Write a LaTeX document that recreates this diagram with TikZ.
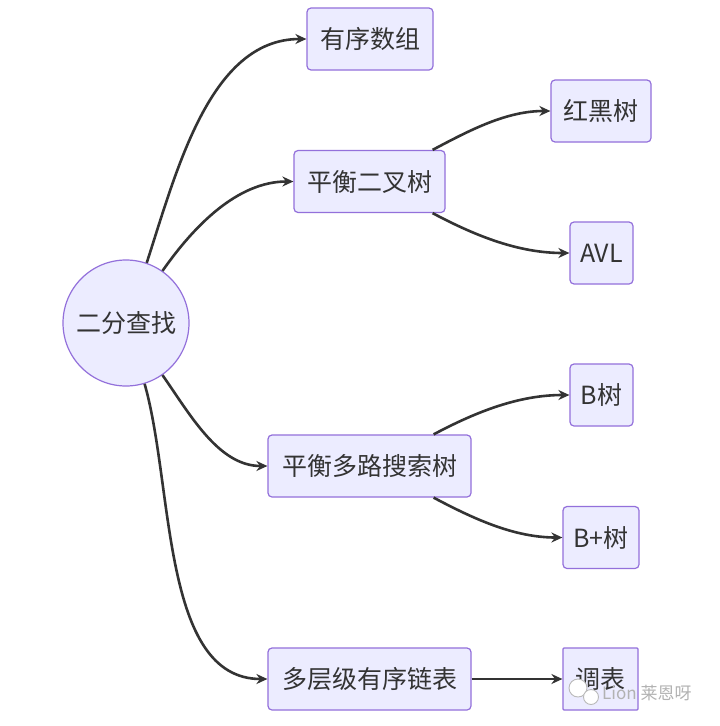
\documentclass[tikz,border=0pt]{standalone}
\usepackage{fontspec}
\setmainfont{Noto Sans CJK SC}
\usetikzlibrary{arrows.meta}
\definecolor{nodefill}{HTML}{ECECFF}
\definecolor{nodeline}{HTML}{9370DB}
\definecolor{ink}{HTML}{333333}
\begin{document}
\begin{tikzpicture}[x=1pt,y=-1pt,
  box/.style={draw=nodeline,fill=nodefill,rounded corners=4pt,line width=1.2pt,
    minimum height=62pt,inner sep=0pt,text=ink,font=\fontsize{25}{30}\selectfont},
  rootnode/.style={circle,draw=nodeline,fill=nodefill,line width=1.2pt,
    minimum size=126pt,inner sep=0pt,text=ink,font=\fontsize{25}{30}\selectfont},
  edge/.style={draw=ink,line width=2.6pt,-{Stealth[length=11pt,width=10pt]}}]
\useasboundingbox (0,0) rectangle (720,726);
\fill[white] (0,0) rectangle (720,726);

\node[rootnode] (root) at (126,323) {二分查找};
\node[box,minimum width=126pt] (arr) at (370,39) {有序数组};
\node[box,minimum width=151pt] (bst) at (369.5,181.5) {平衡二叉树};
\node[box,minimum width=100pt] (rb) at (601,111) {红黑树};
\node[box,minimum width=63pt] (avl) at (601.5,253) {AVL};
\node[box,minimum width=63pt] (bt) at (601.5,395) {B树};
\node[box,minimum width=203pt] (mst) at (369.5,466) {平衡多路搜索树};
\node[box,minimum width=76pt] (bpt) at (601,537.5) {B+树};
\node[box,minimum width=203pt] (ml) at (369.5,679) {多层级有序链表};
\node[box,minimum width=75pt,rounded corners=1pt] (skip) at (600.5,679) {\raisebox{3pt}{调表}};

\draw[edge] (root.71) to[out=72,in=180,looseness=0.9] (arr.west);
\draw[edge] (root.55) to[out=55,in=180,looseness=0.9] (bst.west);
\draw[edge] (root.-55) to[out=-55,in=180,looseness=0.9] (mst.west);
\draw[edge] (root.-73) to[out=-74,in=180,looseness=0.85] (ml.west);

\coordinate (bstA) at ([xshift=-13pt]bst.north east);
\coordinate (bstB) at ([xshift=-13pt]bst.south east);
\coordinate (mstA) at ([xshift=-38pt]mst.north east);
\coordinate (mstB) at ([xshift=-38pt]mst.south east);
\draw[edge] (bstA) to[out=28,in=180,looseness=0.9] (rb.west);
\draw[edge] (bstB) to[out=-28,in=180,looseness=0.9] (avl.west);
\draw[edge] (mstA) to[out=28,in=180,looseness=0.9] (bt.west);
\draw[edge] (mstB) to[out=-28,in=180,looseness=0.9] (bpt.west);
\draw[edge] (ml.east) -- (skip.west);

% watermark
\node[draw=gray!55,fill=white,circle,minimum size=18pt,inner sep=0pt,line width=0.9pt] (wm1) at (578,688) {};
\node[draw=gray!55,fill=white,circle,minimum size=15pt,inner sep=0pt,line width=0.9pt] (wm2) at (591,697) {};
\node[text=gray!60,font=\fontsize{17}{20}\selectfont,anchor=west,inner sep=0pt] (wmt) at (602,693) {Lion 莱恩呀};
\end{tikzpicture}
\end{document}
